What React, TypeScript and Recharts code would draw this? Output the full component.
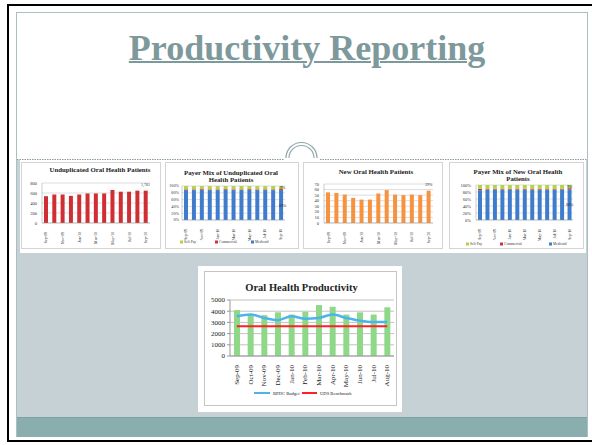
import { BarChart, Bar, ComposedChart, Line, XAxis, YAxis, CartesianGrid } from "recharts";

// main chart: Oral Health Productivity
const months = ["Sep-09", "Oct-09", "Nov-09", "Dec-09", "Jan-10", "Feb-10", "Mar-10", "Apr-10", "May-10", "Jun-10", "Jul-10", "Aug-10"];
const visits = [4100, 3700, 3650, 3900, 3700, 3950, 4550, 4400, 3700, 3900, 3700, 4350];
const bphcBudget = [3550, 3700, 3400, 3200, 3550, 3330, 3400, 3700, 3400, 3150, 3030, 3030];
const udsBenchmark = [2650, 2650, 2650, 2650, 2650, 2650, 2650, 2650, 2650, 2650, 2650, 2650];
const productivityTicks = [0, 1000, 2000, 3000, 4000, 5000];

// thumbnails
const thumbMonths = ["Sep-09", "Oct-09", "Nov-09", "Dec-09", "Jan-10", "Feb-10", "Mar-10", "Apr-10", "May-10", "Jun-10", "Jul-10", "Aug-10", "Sep-10"];
const unduplicatedPatients = [536, 570, 570, 543, 570, 591, 591, 591, 661, 626, 626, 647, 647];
const unduplicatedTicks = [0, 200, 400, 600, 800];
const newPatients = [55, 54, 51, 45, 42, 42, 53, 59, 51, 50, 51, 50, 58];
const newPatientTicks = [0, 10, 20, 30, 40, 50, 60, 70];
const pctTicks = [0, 20, 40, 60, 80, 100];

const unduplicatedMedicaid = [88, 88, 89, 88, 88, 89, 88, 88, 89, 88, 88, 88, 88];
const unduplicatedCommercial = [2, 2, 2, 2, 2, 2, 2, 2, 2, 2, 2, 2, 3];
const unduplicatedSelfPay = [10, 10, 9, 10, 10, 9, 10, 10, 9, 10, 10, 10, 9];

const newMedicaid = [85, 86, 87, 86, 87, 86, 87, 86, 87, 86, 86, 87, 88];
const newCommercial = [4, 2, 2, 2, 2, 2, 2, 2, 2, 2, 2, 2, 3];
const newSelfPay = [11, 12, 11, 12, 11, 12, 11, 12, 11, 12, 12, 11, 9];

const SERIF = '"Liberation Serif", "Times New Roman", serif';

const mainData = months.map((m, i) => ({ month: m, visits: visits[i], budget: bphcBudget[i], uds: udsBenchmark[i] }));
const undupData = thumbMonths.map((m, i) => ({ month: m, value: unduplicatedPatients[i] }));
const newData = thumbMonths.map((m, i) => ({ month: m, value: newPatients[i] }));
const undupMix = thumbMonths.map((m, i) => ({ month: m, medicaid: unduplicatedMedicaid[i], commercial: unduplicatedCommercial[i], selfPay: unduplicatedSelfPay[i] }));
const newMix = thumbMonths.map((m, i) => ({ month: m, medicaid: newMedicaid[i], commercial: newCommercial[i], selfPay: newSelfPay[i] }));

function RotatedTick(props: any) {
  const { x, y, payload, fontSize } = props;
  return (
    <text transform={`translate(${x},${y}) rotate(-90)`} textAnchor="end" dy="0.33em" fontSize={fontSize} fontFamily={SERIF} fill="#222">
      {payload.value}
    </text>
  );
}

const abs = (left: number, top: number, width: number, height: number, extra: any = {}) => ({
  position: "absolute" as const, left, top, width, height, ...extra,
});

function Thumb({ left, top, width, children }: any) {
  return <div style={abs(left, top, width, 87, { background: "#fff", border: "1px solid #d4d4d4", boxSizing: "border-box" })}>{children}</div>;
}

export default function App() {
  const smallTick = { fontSize: 4.5, fontFamily: SERIF, fill: "#333" };
  const smallAxis = { stroke: "#999", strokeWidth: 0.5 };
  return (
    <div style={abs(0, 0, 592, 445, { background: "#fff", overflow: "hidden", fontFamily: SERIF })}>
      {/* slide border */}
      <div style={abs(7, 4, 600, 438, { borderLeft: "2px solid #000", borderTop: "2px solid #000", borderBottom: "2px solid #000", boxSizing: "border-box" })} />
      <div style={abs(16, 12, 572, 425, { border: "1.5px solid #a9bfc1", boxSizing: "border-box" })} />
      <div style={abs(17, 160, 570, 257, { background: "#c6d1d6" })} />
      <div style={abs(17, 417, 570, 19, { background: "#8aaead", borderTop: "1px solid #7fa3a3" })} />
      <div style={abs(20, 160, 566, 93, { background: "#fff" })} />

      {/* title */}
      <div style={abs(107, 30, 400, 42, { textAlign: "center", fontSize: 36, fontWeight: "bold", color: "#7d999b", lineHeight: "36px", textDecoration: "underline", textDecorationThickness: "2px" })}>
        Productivity Reporting
      </div>

      {/* thumbnails */}
      <Thumb left={21} top={162} width={140}>
        <BarChart width={138} height={85} data={undupData} margin={{ top: 20, right: 10, left: 0, bottom: 0 }}>
          <CartesianGrid vertical={false} stroke="#bbb" strokeWidth={0.5} />
          <XAxis dataKey="month" interval={1} height={25} tickLine={false} axisLine={smallAxis} tick={(p: any) => <RotatedTick {...p} y={p.y + 1} fontSize={4} />} />
          <YAxis domain={[0, 800]} ticks={unduplicatedTicks} interval={0} width={20} tickSize={3} tickLine={false} axisLine={smallAxis} tick={smallTick} />
          <Bar dataKey="value" fill="#cf2e33" barSize={4} isAnimationActive={false} />
        </BarChart>
      </Thumb>
      <Thumb left={165} top={162} width={134}>
        <BarChart width={132} height={80} data={undupMix} margin={{ top: 23, right: 13, left: 0, bottom: 0 }}>
          <CartesianGrid vertical={false} stroke="#bbb" strokeWidth={0.5} />
          <XAxis dataKey="month" interval={1} height={23} tickLine={false} axisLine={smallAxis} tick={(p: any) => <RotatedTick {...p} y={p.y + 1} fontSize={3.8} />} />
          <YAxis domain={[0, 100]} ticks={pctTicks} interval={0} width={16} tickSize={1} tickLine={false} axisLine={smallAxis} tick={{ ...smallTick, fontSize: 4.2 }} tickFormatter={(v: number) => `${v}%`} />
          <Bar dataKey="medicaid" stackId="a" fill="#3f7ccc" barSize={4} isAnimationActive={false} />
          <Bar dataKey="commercial" stackId="a" fill="#d0323a" barSize={4} isAnimationActive={false} />
          <Bar dataKey="selfPay" stackId="a" fill="#b5d24a" barSize={4} isAnimationActive={false} />
        </BarChart>
      </Thumb>
      <Thumb left={303} top={162} width={140}>
        <BarChart width={138} height={85} data={newData} margin={{ top: 21, right: 9, left: 0, bottom: 0 }}>
          <CartesianGrid vertical={false} stroke="#bbb" strokeWidth={0.5} />
          <XAxis dataKey="month" interval={1} height={25} tickLine={false} axisLine={smallAxis} tick={(p: any) => <RotatedTick {...p} y={p.y + 1} fontSize={4} />} />
          <YAxis domain={[0, 70]} ticks={newPatientTicks} interval={0} width={20} tickSize={3} tickLine={false} axisLine={smallAxis} tick={smallTick} />
          <Bar dataKey="value" fill="#f7923e" barSize={4} isAnimationActive={false} />
        </BarChart>
      </Thumb>
      <Thumb left={449} top={162} width={135}>
        <BarChart width={133} height={80} data={newMix} margin={{ top: 22, right: 10, left: 0, bottom: 0 }}>
          <CartesianGrid vertical={false} stroke="#bbb" strokeWidth={0.5} />
          <XAxis dataKey="month" interval={1} height={23} tickLine={false} axisLine={smallAxis} tick={(p: any) => <RotatedTick {...p} y={p.y + 1} fontSize={3.8} />} />
          <YAxis domain={[0, 100]} ticks={pctTicks} interval={0} width={26} tickSize={3} tickLine={false} axisLine={smallAxis} tick={smallTick} tickFormatter={(v: number) => `${v}%`} />
          <Bar dataKey="medicaid" stackId="a" fill="#3f7ccc" barSize={4} isAnimationActive={false} />
          <Bar dataKey="commercial" stackId="a" fill="#d0323a" barSize={4} isAnimationActive={false} />
          <Bar dataKey="selfPay" stackId="a" fill="#b5d24a" barSize={4} isAnimationActive={false} />
        </BarChart>
      </Thumb>

      {/* main chart */}
      <div style={abs(198, 266, 204, 146, { background: "#fff" })} />
      <div style={abs(204, 271, 193, 135, { border: "1px solid #c4c4c4", boxSizing: "border-box" })}>
        <ComposedChart width={191} height={133} data={mainData} margin={{ top: 28, right: 2, left: 0, bottom: 0 }}>
          <CartesianGrid vertical={false} stroke="#a8a8a8" strokeWidth={0.7} />
          <XAxis dataKey="month" interval={0} height={49} tickLine={false} axisLine={{ stroke: "#999" }} tick={(p: any) => <RotatedTick {...p} y={p.y + 1} fontSize={7} />} />
          <YAxis domain={[0, 5000]} ticks={productivityTicks} interval={0} width={25} tickSize={3} tickLine={{ stroke: "#999" }} axisLine={{ stroke: "#999" }} tick={{ fontSize: 7, fontFamily: SERIF, fill: "#222" }} />
          <Bar dataKey="visits" fill="#8fd88a" barSize={6} isAnimationActive={false} />
          <Line dataKey="budget" type="monotone" stroke="#4cb4ec" strokeWidth={2.5} dot={false} isAnimationActive={false} />
          <Line dataKey="uds" type="linear" stroke="#ff2121" strokeWidth={2} dot={false} isAnimationActive={false} />
        </ComposedChart>
      </div>

      {/* overlay: divider, ornament, small texts */}
      <svg width={592} height={445} style={abs(0, 0, 592, 445, { pointerEvents: "none" })}>
        <line x1={17} y1={159.5} x2={284} y2={159.5} stroke="#8a9a9a" strokeWidth={1} strokeDasharray="1.5 1" />
        <line x1={320} y1={159.5} x2={587} y2={159.5} stroke="#8a9a9a" strokeWidth={1} strokeDasharray="1.5 1" />
        <path d="M286 158 A15.5 15.5 0 0 1 317 158" fill="none" stroke="#8fa7a9" strokeWidth={1.2} />
        <path d="M289 158 A12.5 12.5 0 0 1 314 158" fill="none" stroke="#8fa7a9" strokeWidth={1.2} />

        <g fontFamily={SERIF} fontWeight="bold" fill="#222" fontSize={6.8} textAnchor="middle">
          <text x={100} y={172}>Unduplicated Oral Health Patients</text>
          <text x={231} y={175}>Payer Mix of Unduplicated Oral</text>
          <text x={231} y={182}>Health Patients</text>
          <text x={376} y={174}>New Oral Health Patients</text>
          <text x={518} y={174}>Payer Mix of New Oral Health</text>
          <text x={518} y={181}>Patients</text>
          <text x={301.5} y={291} fontSize={10.5}>Oral Health Productivity</text>
        </g>
        <g fontFamily={SERIF} fill="#333" fontSize={4}>
          <text x={141} y={186}>1,701</text>
          <text x={280} y={189}>9%</text>
          <text x={279} y={207}>88%</text>
          <text x={425} y={186}>29%</text>
          <text x={567} y={188}>9%</text>
          <text x={566} y={206}>88%</text>
        </g>
        <g fontFamily={SERIF} fill="#333" fontSize={3.6}>
          <rect x={180} y={240.5} width={3} height={3} fill="#b5d24a" />
          <text x={184} y={243}>Self Pay</text>
          <rect x={215} y={240.5} width={3} height={3} fill="#d0323a" />
          <text x={219} y={243}>Commercial</text>
          <rect x={251} y={240.5} width={3} height={3} fill="#3f7ccc" />
          <text x={255} y={243}>Medicaid</text>
          <rect x={466} y={242.5} width={3} height={3} fill="#b5d24a" />
          <text x={470} y={245}>Self Pay</text>
          <rect x={500} y={242.5} width={3} height={3} fill="#d0323a" />
          <text x={504} y={245}>Commercial</text>
          <rect x={549} y={242.5} width={3} height={3} fill="#3f7ccc" />
          <text x={553} y={245}>Medicaid</text>
        </g>
        <g fontFamily={SERIF} fill="#222" fontSize={4.6}>
          <line x1={254} y1={393} x2={270} y2={393} stroke="#4cb4ec" strokeWidth={2} />
          <text x={273} y={394.6}>BPHC Budget</text>
          <line x1={302} y1={393} x2={317} y2={393} stroke="#ff2121" strokeWidth={2} />
          <text x={320} y={394.6}>UDS Benchmark</text>
        </g>
      </svg>
    </div>
  );
}
